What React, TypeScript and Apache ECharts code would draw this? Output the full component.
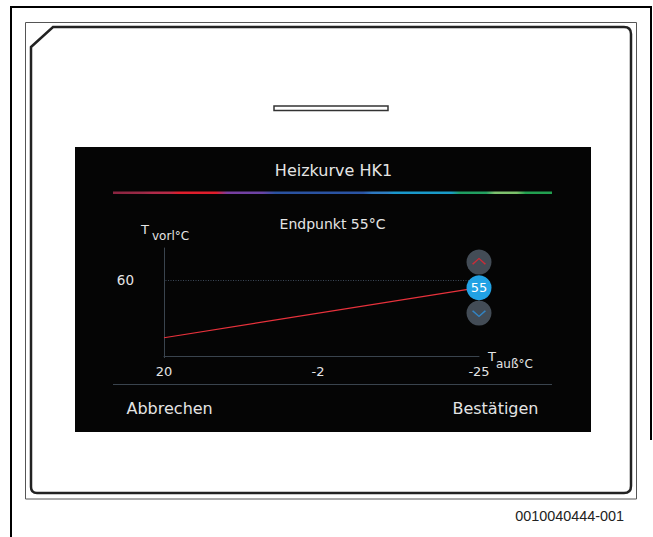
import React, { useEffect, useRef } from "react";
import * as echarts from "echarts";

// ---- data ----
const titleText = "Heizkurve HK1";
const subtitleText = "Endpunkt 55°C";
const yAxisName = ["T", "vorl°C"];
const xAxisName = ["T", "auß°C"];
const xTicks = [20, -2, -25];
const yTicks = [60];
const xRange = [-25, 20];
const yRange = [12, 80];
const curveX = [20, -25];
const curveY = [23.5, 55];
const endpointValue = 55;
const buttonLabels = ["Abbrechen", "Bestätigen"];
const docNumber = "0010040444-001";

const FONT = "DejaVu Sans";
const TXT = "#e4e4e4";

const framePath =
  "M31,47 L53,27 L624,27 Q631,27 631,34 L631,486 Q631,493 624,493 L37,493 Q31,493 31,487 Z";

let registered = false;
function ensureShape() {
  if (registered) return;
  echarts.graphic.registerShape("devframe", echarts.graphic.extendPath(framePath, {}) as any);
  registered = true;
}

export default function App() {
  const ref = useRef<HTMLDivElement>(null);
  useEffect(() => {
    document.body.style.margin = "0";
    ensureShape();
    const chart = echarts.init(ref.current!, null, { renderer: "svg" });
    const curveData = curveX.map((x, i) => [x, curveY[i]]);
    const endPt = [[curveX[curveX.length - 1], endpointValue]];

    const option: any = {
      animation: false,
      backgroundColor: "#ffffff",
      grid: { left: 164, top: 248, width: 315, height: 108 },
      xAxis: {
        type: "value",
        min: xRange[0],
        max: xRange[1],
        inverse: true,
        axisLine: { show: true, onZero: false, lineStyle: { color: "#3a444e", width: 1 } },
        axisTick: { show: true, customValues: [20], length: 2, lineStyle: { color: "#3a444e" } },
        splitLine: { show: false },
        axisLabel: {
          customValues: xTicks,
          color: TXT,
          fontFamily: FONT,
          fontSize: 13,
          margin: 9,
        },
      },
      yAxis: {
        type: "value",
        min: yRange[0],
        max: yRange[1],
        axisLine: { show: true, onZero: false, lineStyle: { color: "#3a444e", width: 1 } },
        axisTick: { show: false },
        splitLine: { show: false },
        axisLabel: {
          customValues: yTicks,
          color: TXT,
          fontFamily: FONT,
          fontSize: 13.5,
          margin: 30,
        },
      },
      series: [
        {
          type: "line",
          data: curveData,
          showSymbol: false,
          symbol: "none",
          lineStyle: { color: "#e8323c", width: 1.2 },
          z: 2,
          markLine: {
            silent: true,
            symbol: "none",
            label: { show: false },
            lineStyle: { color: "#3c4858", type: [1, 1.5], width: 1 },
            data: yTicks.map((v) => ({ yAxis: v })),
          },
        },
        {
          type: "scatter",
          data: endPt,
          symbol: "circle",
          symbolSize: 25,
          symbolOffset: [0, -25.6],
          itemStyle: { color: "#525e6a" },
          z: 3,
        },
        {
          type: "scatter",
          data: endPt,
          symbol: "circle",
          symbolSize: 25,
          symbolOffset: [0, 25.4],
          itemStyle: { color: "#525e6a" },
          z: 3,
        },
        {
          type: "scatter",
          data: endPt,
          symbol: "path://M0,6 L6,0 L12,6 L11,7 L6,1.6 L1,7 Z",
          symbolSize: [14, 7],
          symbolOffset: [0, -26.5],
          itemStyle: { color: "#ee2430" },
          z: 4,
        },
        {
          type: "scatter",
          data: endPt,
          symbol: "path://M0,1 L1,0 L6,5.4 L11,0 L12,1 L6,7 Z",
          symbolSize: [14, 7],
          symbolOffset: [0, 26],
          itemStyle: { color: "#2e92e0" },
          z: 4,
        },
        {
          type: "scatter",
          data: endPt,
          symbol: "circle",
          symbolSize: 25,
          itemStyle: { color: "#22a2e4", opacity: 1 },
          label: {
            show: true,
            position: "inside",
            formatter: () => String(endpointValue),
            color: "#ffffff",
            fontFamily: FONT,
            fontSize: 13,
          },
          z: 5,
        },
      ],
      graphic: [
        // outer page border
        {
          type: "polyline",
          z: -20,
          shape: { points: [[11, 537], [11, 7], [651, 7], [651, 440]] },
          style: { stroke: "#000", lineWidth: 2, fill: "none" },
        },
        // thin device outline
        {
          type: "rect",
          z: -20,
          shape: { x: 25.5, y: 22.5, width: 611, height: 476.5 },
          style: { stroke: "#555", lineWidth: 1, fill: "none" },
        },
        // thick device frame
        {
          type: "devframe",
          z: -19,
          x: 0,
          y: 0,
          style: { stroke: "#222", lineWidth: 2.5, fill: "none" },
        },
        // slot
        {
          type: "rect",
          z: -19,
          shape: { x: 274, y: 106, width: 114, height: 4.5 },
          style: { stroke: "#333", lineWidth: 1.5, fill: "#fff" },
        },
        // screen
        {
          type: "rect",
          z: -18,
          shape: { x: 75, y: 147, width: 516, height: 285 },
          style: { fill: "#050505" },
        },
        // rainbow line
        {
          type: "rect",
          z: -17,
          shape: { x: 113, y: 191.5, width: 439, height: 2.5 },
          style: {
            fill: new echarts.graphic.LinearGradient(0, 0, 1, 0, [
              { offset: 0, color: "#8a2440" },
              { offset: 0.07, color: "#9c2a46" },
              { offset: 0.09, color: "#b02a4a" },
              { offset: 0.13, color: "#b82a46" },
              { offset: 0.15, color: "#e01e2c" },
              { offset: 0.235, color: "#e01e2c" },
              { offset: 0.26, color: "#7a3ea0" },
              { offset: 0.34, color: "#6a44a6" },
              { offset: 0.37, color: "#2a52a0" },
              { offset: 0.57, color: "#2a54a4" },
              { offset: 0.59, color: "#2e78c0" },
              { offset: 0.625, color: "#2e80c4" },
              { offset: 0.64, color: "#1a98cc" },
              { offset: 0.77, color: "#1a9cc8" },
              { offset: 0.79, color: "#1e9e62" },
              { offset: 0.85, color: "#24a060" },
              { offset: 0.87, color: "#80c270" },
              { offset: 0.92, color: "#7cc06a" },
              { offset: 0.94, color: "#22a050" },
              { offset: 1, color: "#22a050" },
            ]),
          },
        },
        // separator
        {
          type: "line",
          z: -17,
          shape: { x1: 113, y1: 384.5, x2: 552, y2: 384.5 },
          style: { stroke: "#3a444e", lineWidth: 1 },
        },
        // title
        {
          type: "text",
          x: 333.5,
          y: 170,
          style: {
            text: titleText,
            fill: TXT,
            font: `16px "${FONT}"`,
            align: "center",
            verticalAlign: "middle",
          },
        },
        {
          type: "text",
          x: 332.5,
          y: 223.5,
          style: {
            text: subtitleText,
            fill: TXT,
            font: `14px "${FONT}"`,
            align: "center",
            verticalAlign: "middle",
          },
        },
        // y axis name
        {
          type: "text",
          x: 141,
          y: 229,
          style: { text: yAxisName[0], fill: TXT, font: `13px "${FONT}"`, verticalAlign: "middle" },
        },
        {
          type: "text",
          x: 152,
          y: 235.5,
          style: { text: yAxisName[1], fill: TXT, font: `12px "${FONT}"`, verticalAlign: "middle" },
        },
        // x axis name
        {
          type: "text",
          x: 488,
          y: 356.5,
          style: { text: xAxisName[0], fill: TXT, font: `13px "${FONT}"`, verticalAlign: "middle" },
        },
        {
          type: "text",
          x: 496,
          y: 364,
          style: { text: xAxisName[1], fill: TXT, font: `12px "${FONT}"`, verticalAlign: "middle" },
        },
        // buttons
        {
          type: "text",
          x: 126.5,
          y: 408.5,
          style: { text: buttonLabels[0], fill: TXT, font: `16px "${FONT}"`, verticalAlign: "middle" },
        },
        {
          type: "text",
          x: 538.5,
          y: 408.5,
          style: {
            text: buttonLabels[1],
            fill: TXT,
            font: `16px "${FONT}"`,
            align: "right",
            verticalAlign: "middle",
          },
        },
        // document number
        {
          type: "text",
          x: 624,
          y: 516,
          style: {
            text: docNumber,
            fill: "#222",
            font: `14.4px "Liberation Sans"`,
            align: "right",
            verticalAlign: "middle",
          },
        },
      ],
    };
    chart.setOption(option);
    return () => chart.dispose();
  }, []);
  return (
    <div
      ref={ref}
      style={{ position: "fixed", left: 0, top: 0, width: 653, height: 537, background: "#fff" }}
    />
  );
}
